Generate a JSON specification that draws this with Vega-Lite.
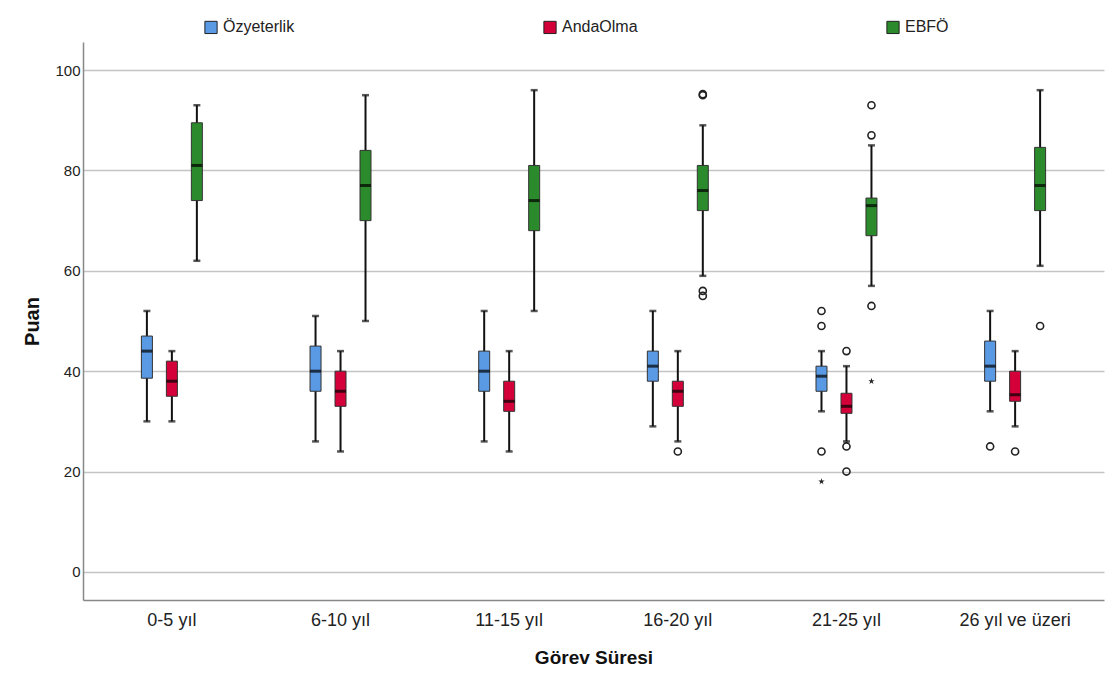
{
  "$schema": "https://vega.github.io/schema/vega-lite/v6.json",
  "width": 1021,
  "height": 558,
  "autosize": {"type": "none"},
  "padding": {"left": 83, "top": 42, "right": 3, "bottom": 86},
  "background": "white",
  "config": {
    "font": "Liberation Sans",
    "view": {"stroke": null},
    "axis": {"labelFont": "Liberation Sans", "titleFont": "Liberation Sans", "labelColor": "#222", "titleColor": "#111"}
  },
  "datasets": {
    "boxes": [
      {"cat": "0-5 yıl", "grp": "Özyeterlik", "lower": 30, "q1": 38.6, "median": 44, "q3": 47, "upper": 52},
      {"cat": "0-5 yıl", "grp": "AndaOlma", "lower": 30, "q1": 35, "median": 38, "q3": 42, "upper": 44},
      {"cat": "0-5 yıl", "grp": "EBFÖ", "lower": 62, "q1": 74, "median": 81, "q3": 89.5, "upper": 93},
      {"cat": "6-10 yıl", "grp": "Özyeterlik", "lower": 26, "q1": 36, "median": 40, "q3": 45, "upper": 51},
      {"cat": "6-10 yıl", "grp": "AndaOlma", "lower": 24, "q1": 33, "median": 36, "q3": 40, "upper": 44},
      {"cat": "6-10 yıl", "grp": "EBFÖ", "lower": 50, "q1": 70, "median": 77, "q3": 84, "upper": 95},
      {"cat": "11-15 yıl", "grp": "Özyeterlik", "lower": 26, "q1": 36, "median": 40, "q3": 44, "upper": 52},
      {"cat": "11-15 yıl", "grp": "AndaOlma", "lower": 24, "q1": 32, "median": 34, "q3": 38, "upper": 44},
      {"cat": "11-15 yıl", "grp": "EBFÖ", "lower": 52, "q1": 68, "median": 74, "q3": 81, "upper": 96},
      {"cat": "16-20 yıl", "grp": "Özyeterlik", "lower": 29, "q1": 38, "median": 41, "q3": 44, "upper": 52},
      {"cat": "16-20 yıl", "grp": "AndaOlma", "lower": 26, "q1": 33, "median": 36, "q3": 38, "upper": 44},
      {"cat": "16-20 yıl", "grp": "EBFÖ", "lower": 59, "q1": 72, "median": 76, "q3": 81, "upper": 89},
      {"cat": "21-25 yıl", "grp": "Özyeterlik", "lower": 32, "q1": 36, "median": 39, "q3": 41, "upper": 44},
      {"cat": "21-25 yıl", "grp": "AndaOlma", "lower": 26, "q1": 31.6, "median": 33, "q3": 35.6, "upper": 41},
      {"cat": "21-25 yıl", "grp": "EBFÖ", "lower": 57, "q1": 67, "median": 73, "q3": 74.5, "upper": 85},
      {"cat": "26 yıl ve üzeri", "grp": "Özyeterlik", "lower": 32, "q1": 38, "median": 41, "q3": 46, "upper": 52},
      {"cat": "26 yıl ve üzeri", "grp": "AndaOlma", "lower": 29, "q1": 34, "median": 35.3, "q3": 40, "upper": 44},
      {"cat": "26 yıl ve üzeri", "grp": "EBFÖ", "lower": 61, "q1": 72, "median": 77, "q3": 84.6, "upper": 96}
    ],
    "outl": [
      {"cat": "16-20 yıl", "grp": "EBFÖ", "value": 95},
      {"cat": "16-20 yıl", "grp": "EBFÖ", "value": 95.2},
      {"cat": "16-20 yıl", "grp": "EBFÖ", "value": 56},
      {"cat": "16-20 yıl", "grp": "EBFÖ", "value": 55},
      {"cat": "16-20 yıl", "grp": "AndaOlma", "value": 24},
      {"cat": "21-25 yıl", "grp": "EBFÖ", "value": 93},
      {"cat": "21-25 yıl", "grp": "EBFÖ", "value": 87},
      {"cat": "21-25 yıl", "grp": "EBFÖ", "value": 53},
      {"cat": "21-25 yıl", "grp": "Özyeterlik", "value": 52},
      {"cat": "21-25 yıl", "grp": "Özyeterlik", "value": 49},
      {"cat": "21-25 yıl", "grp": "Özyeterlik", "value": 24},
      {"cat": "21-25 yıl", "grp": "AndaOlma", "value": 44},
      {"cat": "21-25 yıl", "grp": "AndaOlma", "value": 25},
      {"cat": "21-25 yıl", "grp": "AndaOlma", "value": 20},
      {"cat": "26 yıl ve üzeri", "grp": "EBFÖ", "value": 49},
      {"cat": "26 yıl ve üzeri", "grp": "Özyeterlik", "value": 25},
      {"cat": "26 yıl ve üzeri", "grp": "AndaOlma", "value": 24}
    ],
    "extr": [
      {"cat": "21-25 yıl", "grp": "EBFÖ", "value": 38},
      {"cat": "21-25 yıl", "grp": "Özyeterlik", "value": 18}
    ]
  },
  "encoding": {
    "x": {
      "field": "cat", "type": "nominal",
      "sort": ["0-5 yıl", "6-10 yıl", "11-15 yıl", "16-20 yıl", "21-25 yıl", "26 yıl ve üzeri"],
      "scale": {"paddingInner": 0, "paddingOuter": 0.027},
      "axis": {
        "title": "Görev Süresi", "titleFontSize": 19, "titleFontWeight": "bold", "titlePadding": 19,
        "labelFontSize": 18, "labelPadding": 11, "labelAngle": 0, "ticks": false,
        "domainColor": "#888", "domainWidth": 1.5, "grid": false
      }
    },
    "xOffset": {
      "field": "grp", "type": "nominal",
      "scale": {"domain": ["_l", "Özyeterlik", "AndaOlma", "EBFÖ", "_r"], "paddingInner": 0, "paddingOuter": 0.875}
    }
  },
  "layer": [
    {
      "data": {"name": "boxes"},
      "mark": {"type": "rule", "color": "#111", "strokeWidth": 2},
      "encoding": {
        "y": {"field": "lower", "type": "quantitative",
          "scale": {"domain": [-5.6, 105.6], "nice": false, "zero": false},
          "axis": {
            "title": "Puan", "titleFontSize": 20, "titleFontWeight": "bold", "titlePadding": 12,
            "values": [0, 20, 40, 60, 80, 100], "labelFontSize": 15, "labelPadding": 3, "ticks": false,
            "domainColor": "#888", "domainWidth": 1.5, "gridColor": "#c4c4c4", "gridWidth": 1.5
          }},
        "y2": {"field": "upper"}
      }
    },
    {
      "data": {"name": "boxes"},
      "mark": {"type": "tick", "orient": "horizontal", "color": "#111", "size": 7, "thickness": 2.5},
      "encoding": {"y": {"field": "lower", "type": "quantitative"}}
    },
    {
      "data": {"name": "boxes"},
      "mark": {"type": "tick", "orient": "horizontal", "color": "#111", "size": 7, "thickness": 2.5},
      "encoding": {"y": {"field": "upper", "type": "quantitative"}}
    },
    {
      "data": {"name": "boxes"},
      "mark": {"type": "bar", "size": 11, "stroke": "#333", "strokeWidth": 1, "opacity": 1},
      "encoding": {
        "y": {"field": "q1", "type": "quantitative"},
        "y2": {"field": "q3"},
        "color": {
          "field": "grp", "type": "nominal",
          "scale": {"domain": ["Özyeterlik", "AndaOlma", "EBFÖ"], "range": ["#5A9AE5", "#D4003A", "#2B8A2B"]},
          "legend": {
            "title": null, "orient": "none", "direction": "horizontal", "legendX": 120, "legendY": -23,
            "symbolType": "square", "symbolSize": 150, "symbolStrokeColor": "#222", "symbolStrokeWidth": 1,
            "symbolOpacity": 1, "labelFontSize": 16, "labelOffset": 4, "labelColor": "#222",
            "columnPadding": 246, "labelFont": "Liberation Sans"
          }
        }
      }
    },
    {
      "data": {"name": "boxes"},
      "mark": {"type": "tick", "orient": "horizontal", "color": "#000", "size": 11, "thickness": 3},
      "encoding": {"y": {"field": "median", "type": "quantitative"}}
    },
    {
      "data": {"name": "outl"},
      "mark": {"type": "point", "shape": "circle", "filled": false, "color": "#222", "strokeWidth": 1.6, "size": 50, "opacity": 1},
      "encoding": {"y": {"field": "value", "type": "quantitative"}}
    },
    {
      "data": {"name": "extr"},
      "mark": {"type": "point", "shape": "M0,-1L0.22,-0.31L0.95,-0.31L0.36,0.12L0.59,0.81L0,0.38L-0.59,0.81L-0.36,0.12L-0.95,-0.31L-0.22,-0.31Z", "filled": true, "color": "#222", "size": 45, "opacity": 1},
      "encoding": {"y": {"field": "value", "type": "quantitative"}}
    }
  ]
}
